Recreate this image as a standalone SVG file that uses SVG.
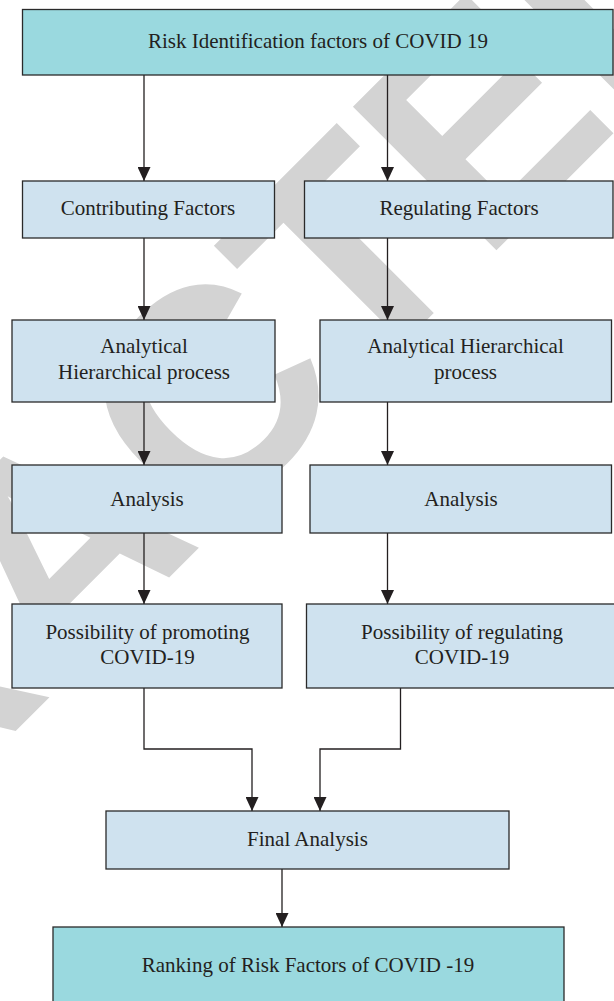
<svg xmlns="http://www.w3.org/2000/svg" width="614" height="1001" viewBox="0 0 614 1001">
<defs>
<style>
.wm{font-family:"Liberation Sans",Arial,sans-serif;font-weight:bold;font-size:295px;fill:#d3d3d3}
.box{fill:#cfe2ef;stroke:#2a2a2a;stroke-width:1.3}
.hdr{fill:#9ad9df;stroke:#2a2a2a;stroke-width:1.3}
.t{font-family:"Liberation Serif","Times New Roman",serif;font-size:21px;fill:#231f20;text-anchor:middle}
.c{fill:none;stroke:#231f20;stroke-width:1.3}
</style>
<marker id="ah" viewBox="0 0 14 13" refX="14" refY="6.5" markerWidth="14" markerHeight="13" markerUnits="userSpaceOnUse" orient="auto">
<path d="M0,0 L14,6.5 L0,13 z" fill="#231f20"/>
</marker>
</defs>
<rect width="614" height="1001" fill="#ffffff"/>
<g id="watermark" transform="rotate(-45)">
<text class="wm" x="-1255" y="528">RETRACTED</text>
</g>
<g id="connectors">
<line class="c" x1="144" y1="75" x2="144" y2="181" marker-end="url(#ah)"/>
<line class="c" x1="387.5" y1="75" x2="387.5" y2="181" marker-end="url(#ah)"/>
<line class="c" x1="144" y1="238" x2="144" y2="320" marker-end="url(#ah)"/>
<line class="c" x1="387.5" y1="238" x2="387.5" y2="320" marker-end="url(#ah)"/>
<line class="c" x1="144" y1="402" x2="144" y2="465" marker-end="url(#ah)"/>
<line class="c" x1="387.5" y1="402" x2="387.5" y2="465" marker-end="url(#ah)"/>
<line class="c" x1="144" y1="533" x2="144" y2="604" marker-end="url(#ah)"/>
<line class="c" x1="387.5" y1="533" x2="387.5" y2="604" marker-end="url(#ah)"/>
<polyline class="c" points="144,688 144,749 252,749 252,811" marker-end="url(#ah)"/>
<polyline class="c" points="400.5,688 400.5,749 320,749 320,811" marker-end="url(#ah)"/>
<line class="c" x1="282" y1="869" x2="282" y2="927" marker-end="url(#ah)"/>
</g>
<g id="n-risk">
<rect class="hdr" x="22.5" y="9.5" width="590.5" height="65.5"/>
<text class="t" x="318" y="47.5">Risk Identification factors of COVID 19</text>
</g>
<g id="n-contrib">
<rect class="box" x="22.5" y="181" width="252" height="57"/>
<text class="t" x="148" y="215">Contributing Factors</text>
</g>
<g id="n-regul">
<rect class="box" x="304.5" y="181" width="308.5" height="57"/>
<text class="t" x="459" y="215">Regulating Factors</text>
</g>
<g id="n-ahp-left">
<rect class="box" x="12" y="320" width="263" height="82"/>
<text class="t" x="144" y="353">Analytical</text>
<text class="t" x="144" y="378.5">Hierarchical process</text>
</g>
<g id="n-ahp-right">
<rect class="box" x="320" y="320" width="291.5" height="82"/>
<text class="t" x="465.5" y="353">Analytical Hierarchical</text>
<text class="t" x="465.5" y="378.5">process</text>
</g>
<g id="n-analysis-left">
<rect class="box" x="12" y="465" width="270" height="68"/>
<text class="t" x="147" y="506">Analysis</text>
</g>
<g id="n-analysis-right">
<rect class="box" x="310" y="465" width="301.5" height="68"/>
<text class="t" x="461" y="506">Analysis</text>
</g>
<g id="n-poss-left">
<rect class="box" x="12" y="604" width="270" height="84"/>
<text class="t" x="147.5" y="639">Possibility of promoting</text>
<text class="t" x="147.5" y="664">COVID-19</text>
</g>
<g id="n-poss-right">
<rect class="box" x="306.5" y="604" width="312" height="84"/>
<text class="t" x="462" y="639">Possibility of regulating</text>
<text class="t" x="462" y="664">COVID-19</text>
</g>
<g id="n-final">
<rect class="box" x="106" y="811" width="403" height="58"/>
<text class="t" x="307.5" y="846">Final Analysis</text>
</g>
<g id="n-ranking">
<rect class="hdr" x="53" y="927" width="511" height="84"/>
<text class="t" x="308" y="972">Ranking of Risk Factors of COVID -19</text>
</g>
</svg>
